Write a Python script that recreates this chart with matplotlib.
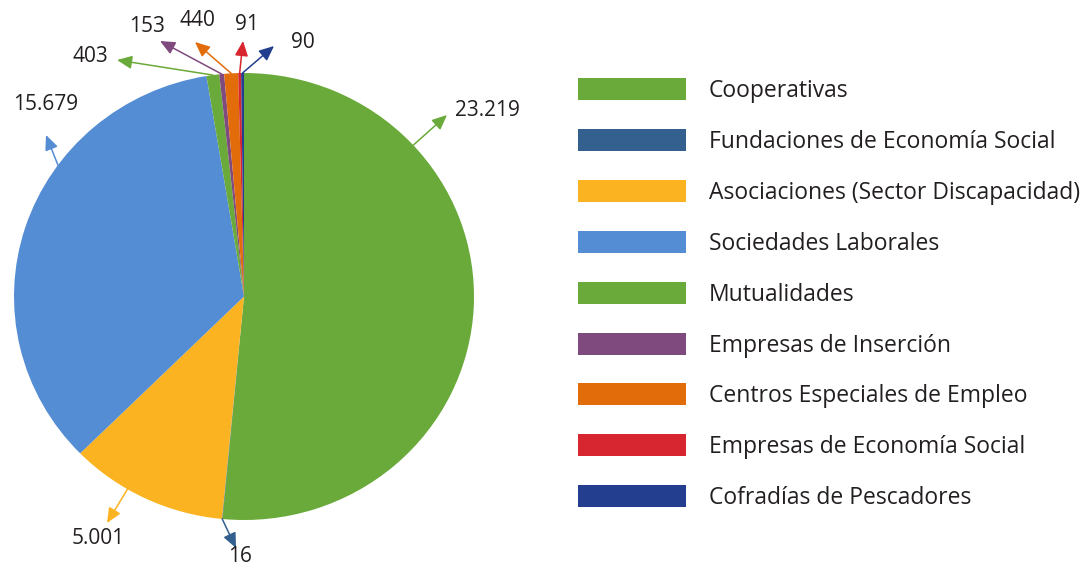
import matplotlib.pyplot as plt
from matplotlib.patches import Rectangle
import numpy as np

plt.rcParams['font.family'] = ['Open Sans', 'DejaVu Sans']

# datos
categorias = [
    "Cooperativas",
    "Fundaciones de Economía Social",
    "Asociaciones (Sector Discapacidad)",
    "Sociedades Laborales",
    "Mutualidades",
    "Empresas de Inserción",
    "Centros Especiales de Empleo",
    "Empresas de Economía Social",
    "Cofradías de Pescadores",
]
valores = [23219, 16, 5001, 15679, 403, 153, 440, 91, 90]
etiquetas = ["23.219", "16", "5.001", "15.679", "403", "153", "440", "91", "90"]
colores = ["#6aaa3a", "#33608f", "#fbb321", "#548dd4", "#6aaa3a",
           "#7f4a7d", "#e36c0a", "#d7262f", "#233e8f"]

# posiciones de las etiquetas (pixeles de la figura)
pos_etiquetas = [(487, 111), (240, 557), (98, 539), (46, 105), (90, 57),
                 (147, 26), (197, 21), (247, 25), (303, 42)]
fin_flechas = [(447, 115), (236, 548), (107, 523), (46, 135), (117, 60),
               (160, 41), (195, 42), (243, 41), (274, 46)]

W, H = 1091, 567
fig = plt.figure(figsize=(W / 100, H / 100), dpi=100)

# pie (centro 244,296; radios 230 x 223)
cx, cy, rx, ry = 244, 296.5, 230, 223.5
ax = fig.add_axes([(cx - rx) / W, 1 - (cy + ry) / H, 2 * rx / W, 2 * ry / H])
wedges, _ = ax.pie(valores, colors=colores, startangle=90, counterclock=False,
                   radius=1, wedgeprops=dict(linewidth=0))
ax.set_aspect('auto')
ax.set_xlim(-1, 1)
ax.set_ylim(-1, 1)
ax.axis('off')

# capa en pixeles para etiquetas y leyenda
lay = fig.add_axes([0, 0, 1, 1])
lay.set_xlim(0, W)
lay.set_ylim(H, 0)
lay.axis('off')

for w, lab, col, (tx, ty), (ex, ey) in zip(wedges, etiquetas, colores, pos_etiquetas, fin_flechas):
    if w.theta2 - w.theta1 > 10:
        # sector grande: la flecha sale en la direccion de la etiqueta
        ang = np.arctan2((cy - ey) / ry, (ex - cx) / rx)
        if lab == "15.679":
            ang += np.deg2rad(4)
    else:
        ang = np.deg2rad((w.theta1 + w.theta2) / 2)
    sx = cx + rx * np.cos(ang)
    sy = cy - ry * np.sin(ang)
    lay.annotate("", xy=(ex, ey), xytext=(sx, sy),
                 arrowprops=dict(arrowstyle="-|>,head_length=0.9,head_width=0.4",
                                 color=col, lw=1.1, shrinkA=0, shrinkB=0))
    lay.text(tx, ty, lab, fontsize=15, color="#231f20", ha="center", va="center")

# leyenda
for i, (cat, col) in enumerate(zip(categorias, colores)):
    y = 89 + i * 50.9
    lay.add_patch(Rectangle((578, y - 11), 108, 22, color=col, lw=0))
    lay.text(709, y + 2, cat, fontsize=16.5, color="#231f20", ha="left", va="center")

fig.savefig("out.png", dpi=100)
